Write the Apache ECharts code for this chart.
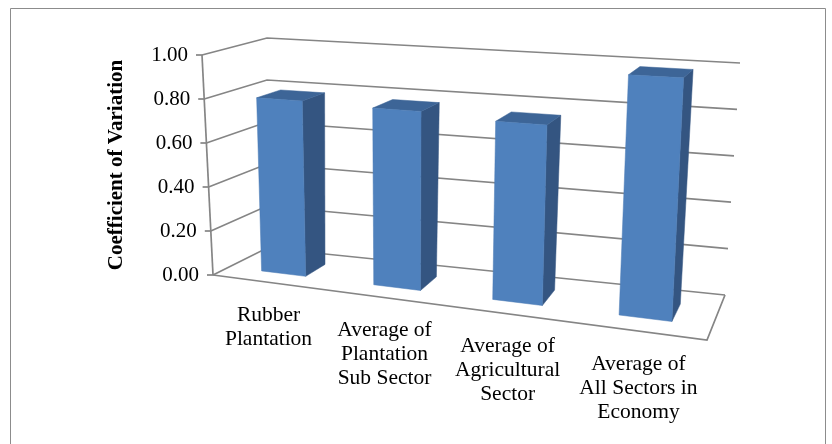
<!DOCTYPE html>
<html>
<head>
<meta charset="utf-8">
<script src="https://cdn.jsdelivr.net/npm/echarts@6/dist/echarts.min.js"></script>
<style>
html,body{margin:0;padding:0;background:#fff;}
#chart{width:832px;height:444px;}
</style>
</head>
<body>
<div id="chart"></div>
<script>
// ---- data ----
const categories = ['Rubber\nPlantation', 'Average of\nPlantation\nSub Sector', 'Average of\nAgricultural\nSector', 'Average of\nAll Sectors in\nEconomy'];
const values = [0.79, 0.78, 0.76, 0.99];
const ticks = [0, 0.2, 0.4, 0.6, 0.8, 1.0];
const axisTitle = 'Coefficient of Variation';

// ---- 3D view (screen corners of the chart box; layout only) ----
const FL0 = [213, 275], FR0 = [707, 340], BL0 = [267, 248], BR0 = [725, 295];
const FL1 = [202, 55],  FR1 = [720, 84],  BL1 = [267, 38],  BR1 = [740, 63];
const K = 0.128;           // perspective along the category direction
const D0 = 0.3, D1 = 0.7;  // bar depth range
const FONT = '"Liberation Serif", "Times New Roman", serif';
const GRID = '#858585';

function lerp2(a, b, t) { return [a[0] + (b[0] - a[0]) * t, a[1] + (b[1] - a[1]) * t]; }
function P(u, v, d) {
  const s = u / (1 + K * (1 - u));
  const f = lerp2(lerp2(FL0, FR0, s), lerp2(FL1, FR1, s), v);
  const b = lerp2(lerp2(BL0, BR0, s), lerp2(BL1, BR1, s), v);
  return lerp2(f, b, d);
}
function norm(cs, pt) {
  return [(pt[0] - cs.x) / cs.width, (cs.y + cs.height - pt[1]) / cs.height];
}

const chart = echarts.init(document.getElementById('chart'));

function renderWalls(params, api) {
  const cs = params.coordSys;
  const t = api.value(1);
  const nv = norm(cs, api.coord([0, t]))[1];
  const f = P(0, nv, 0), b = P(0, nv, 1), br = P(1, nv, 1);
  const children = [
    { type: 'polyline', shape: { points: [f, b, br] }, style: { stroke: GRID, lineWidth: 1.7, fill: null } },
    { type: 'line', shape: { x1: f[0] - 6, y1: f[1], x2: f[0], y2: f[1] }, style: { stroke: GRID, lineWidth: 1.7 } },
    { type: 'text', x: f[0] - 14, y: f[1], style: { text: t.toFixed(2), align: 'right', verticalAlign: 'middle', fontSize: 21, fontFamily: FONT, fill: '#000' } }
  ];
  if (params.dataIndex === 0) {
    const top = norm(cs, api.coord([0, ticks[ticks.length - 1]]))[1];
    children.push({ type: 'polyline', shape: { points: [P(0, nv, 0), P(1, nv, 0), P(1, nv, 1)] }, style: { stroke: GRID, lineWidth: 1.7, fill: null } });
    children.push({ type: 'line', shape: { x1: f[0], y1: f[1], x2: P(0, top, 0)[0], y2: P(0, top, 0)[1] }, style: { stroke: GRID, lineWidth: 1.7 } });
  }
  return { type: 'group', children: children };
}

function renderBars(params, api) {
  const cs = params.coordSys;
  const idx = api.value(0), val = api.value(1);
  const c = api.coord([idx, val]);
  const base = api.coord([idx, 0]);
  const hw = api.size([1, 0])[0] * 0.2;
  const u0 = (c[0] - hw - cs.x) / cs.width, u1 = (c[0] + hw - cs.x) / cs.width, uc = (c[0] - cs.x) / cs.width;
  const vt = norm(cs, c)[1], vb = norm(cs, base)[1];
  const front = [P(u0, vb, D0), P(u1, vb, D0), P(u1, vt, D0), P(u0, vt, D0)];
  const side = [P(u1, vb, D0), P(u1, vb, D1), P(u1, vt, D1), P(u1, vt, D0)];
  const top = [P(u0, vt, D0), P(u1, vt, D0), P(u1, vt, D1), P(u0, vt, D1)];
  const lab = P(uc, vb, 0);
  return {
    type: 'group',
    children: [
      { type: 'polygon', shape: { points: side }, style: { fill: '#345581', stroke: '#345581', lineWidth: 0.5 } },
      { type: 'polygon', shape: { points: top }, style: { fill: '#3d6597', stroke: '#3d6597', lineWidth: 0.5 } },
      { type: 'polygon', shape: { points: front }, style: { fill: '#4f81bd', stroke: '#4a7ab5', lineWidth: 0.5 } },
      { type: 'text', x: lab[0], y: lab[1] + 21, style: { text: categories[idx], align: 'center', verticalAlign: 'top', fontSize: 21.5, lineHeight: 24, fontFamily: FONT, fill: '#000' } }
    ]
  };
}

chart.setOption({
  animation: false,
  backgroundColor: '#ffffff',
  graphic: [{ type: 'rect', shape: { x: 10.5, y: 8.5, width: 815, height: 445 }, style: { fill: null, stroke: '#8c8c8c', lineWidth: 1 }, silent: true }],
  grid: { left: 213, top: 55, width: 494, height: 220 },
  xAxis: { type: 'category', data: categories, show: false },
  yAxis: {
    type: 'value', min: 0, max: 1, interval: 0.2,
    name: axisTitle, nameLocation: 'middle', nameRotate: 90, nameGap: 86,
    nameTextStyle: { fontSize: 21, fontWeight: 'bold', fontFamily: FONT, color: '#000' },
    axisLine: { show: false }, axisTick: { show: false }, axisLabel: { show: false }, splitLine: { show: false }
  },
  series: [
    { type: 'custom', z: 1, clip: false, renderItem: renderWalls, encode: { x: 0, y: 1 }, data: ticks.map(function (t) { return [0, t]; }) },
    { type: 'custom', z: 2, clip: false, renderItem: renderBars, encode: { x: 0, y: 1 }, data: values.map(function (v, i) { return [i, v]; }) }
  ]
});
</script>
</body>
</html>
